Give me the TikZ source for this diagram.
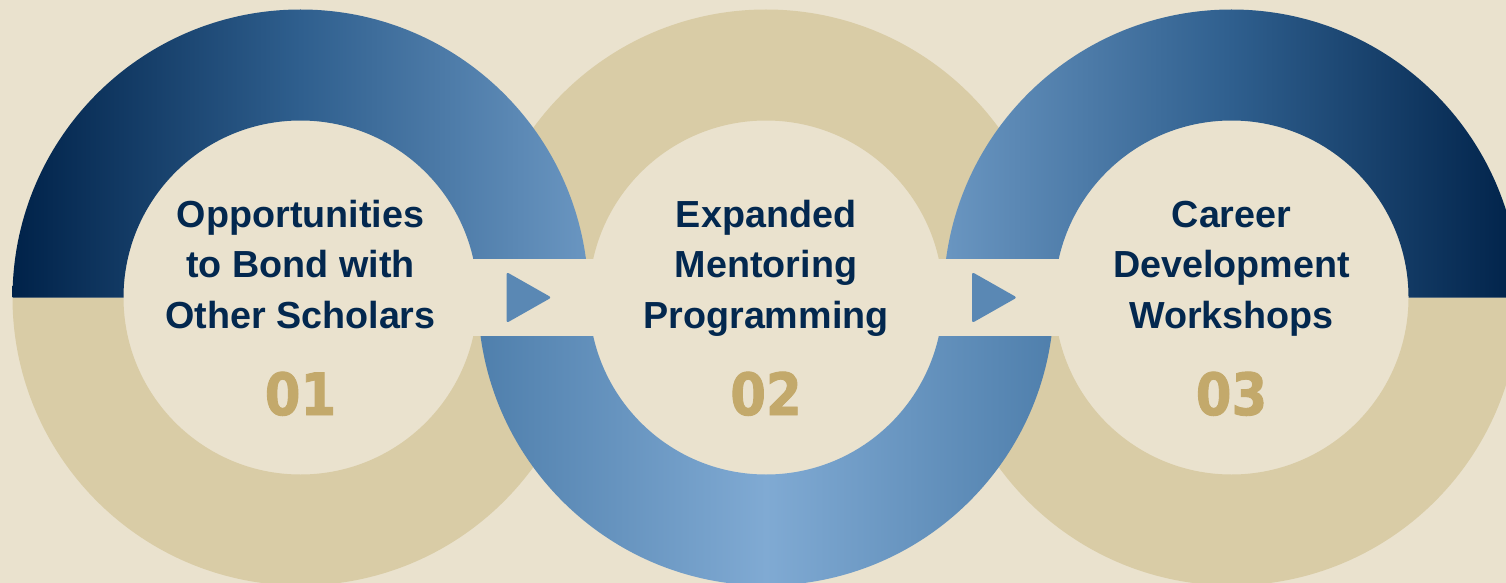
\documentclass[tikz,border=0pt]{standalone}
\usepackage{fontspec}
\usepackage{tikz}

\newfontfamily\stepfont{Liberation Sans}
\newfontfamily\numfont[FakeStretch=0.88,FakeBold=1.5]{DejaVu Sans}

\definecolor{paper}{HTML}{EAE2CE}
\definecolor{sand}{HTML}{D9CCA6}
\definecolor{navy}{HTML}{002249}
\definecolor{midblue}{HTML}{2F5F8E}
\definecolor{paleblue}{HTML}{6A96C1}
\definecolor{edgeblue}{HTML}{4F7FAC}
\definecolor{skyblue}{HTML}{80AAD3}
\definecolor{arrowblue}{HTML}{5A88B4}
\definecolor{inkblue}{HTML}{03284F}
\definecolor{gold}{HTML}{C3A96B}

\begin{document}
\begin{tikzpicture}[x=1pt, y=-1pt,
    steptext/.style={text=inkblue, align=center, inner sep=0pt,
      font=\stepfont\bfseries\fontsize{37.7}{50.5}\selectfont},
    stepnum/.style={text=gold, anchor=base, inner sep=0pt,
      font=\numfont\bfseries\fontsize{58.3}{60}\selectfont}]
  \useasboundingbox (0,0) rectangle (1506,583);
  \fill[paper] (0,0) rectangle (1506,583);
  \clip (0,0) rectangle (1506,583);

  % sand halves
  \foreach \c/\h in {300.5/0, 766/180, 1231.5/0}
    \fill[sand] (\c,297.5) ++(\h:288) arc[start angle=\h, delta angle=180, radius=288]
      -- ++(\h:111) arc[start angle=\h+180, delta angle=-180, radius=177] -- cycle;

  % blue halves
  \foreach \c/\h/\l/\m/\r in {300.5/180/navy/midblue/paleblue,
                              766/0/edgeblue/skyblue/edgeblue,
                              1231.5/180/paleblue/midblue/navy}
    \shade[left color=\l, right color=\r, middle color=\m]
      (\c,297.5) ++(\h:288) arc[start angle=\h, delta angle=180, radius=288]
      -- ++(\h:111) arc[start angle=\h+180, delta angle=-180, radius=177] -- cycle;

  % band and arrows
  \fill[paper] (300.5,259) rectangle (1231.5,336);
  \foreach \c in {300.5, 766}
    \fill[arrowblue, rounded corners=2.5pt]
      (\c+206,272) -- (\c+251,297.5) -- (\c+206,323) -- cycle;

  \node[steptext] (bond) at (300.5,267.7)
    {\strut Opportunities\\to Bond with\\Other Scholars\strut};
  \node[steptext] (mentor) at (766,267.7)
    {\strut Expanded\\Mentoring\\Programming\strut};
  \node[steptext] (career) at (1231.5,267.7)
    {\strut Career\\Development\\Workshops\strut};

  \node[stepnum] (num1) at (300.5,415) {01};
  \node[stepnum] (num2) at (766,415) {02};
  \node[stepnum] (num3) at (1231.5,415) {03};
\end{tikzpicture}
\end{document}
